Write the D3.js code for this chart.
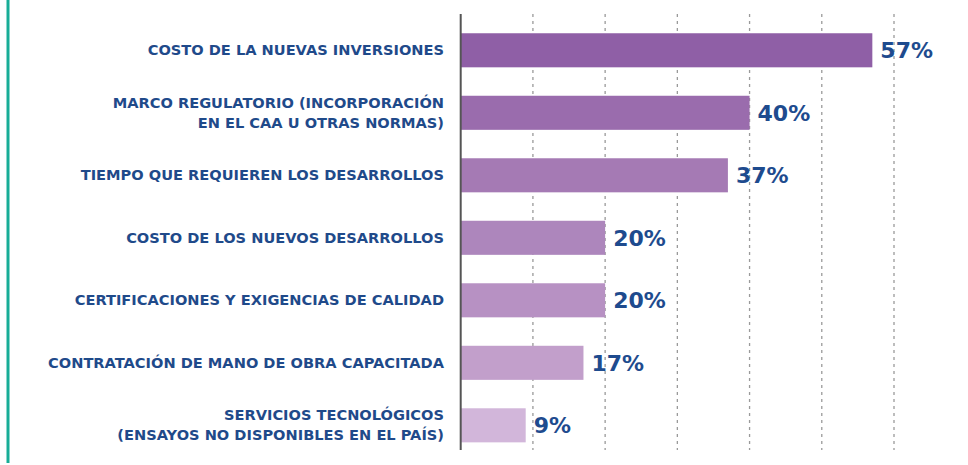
<!DOCTYPE html>
<html>
<head>
<meta charset="utf-8">
<script src="https://cdn.jsdelivr.net/npm/d3@7"></script>
<style>
  body { margin: 0; background: #fff; }
  .cat-label { font-family: "DejaVu Sans", sans-serif; font-weight: bold; font-size: 14.6px; fill: #1f4a8a; }
  .val-label { font-family: "DejaVu Sans", sans-serif; font-weight: bold; font-size: 22px; fill: #1e4b8e; }
</style>
</head>
<body>
<svg id="chart"></svg>
<script>
  const categories = [
    ["COSTO DE LA NUEVAS INVERSIONES"],
    ["MARCO REGULATORIO (INCORPORACIÓN", "EN EL CAA U OTRAS NORMAS)"],
    ["TIEMPO QUE REQUIEREN LOS DESARROLLOS"],
    ["COSTO DE LOS NUEVOS DESARROLLOS"],
    ["CERTIFICACIONES Y EXIGENCIAS DE CALIDAD"],
    ["CONTRATACIÓN DE MANO DE OBRA CAPACITADA"],
    ["SERVICIOS TECNOLÓGICOS", "(ENSAYOS NO DISPONIBLES EN EL PAÍS)"]
  ];
  const values = [57, 40, 37, 20, 20, 17, 9];
  const barColors = ["#8f5fa6", "#9a6cad", "#a57ab4", "#ad86bc", "#b791c3", "#c29fcb", "#d2b6da"];
  const gridTicks = [10, 20, 30, 40, 50, 60];

  const W = 968, H = 465;
  const svg = d3.select("#chart").attr("width", W).attr("height", H);

  // teal frame line on the left
  svg.append("line").attr("x1", 8).attr("x2", 8).attr("y1", 0).attr("y2", 463)
    .attr("stroke", "#17ad97").attr("stroke-width", 3);

  const x = d3.scaleLinear().domain([0, 60]).range([460.7, 894]);
  const y = d3.scaleBand().domain(d3.range(values.length)).range([2, 473.6]).paddingInner(0.455).paddingOuter(0.5);

  const axTop = 14, axBottom = 450;

  // dashed gridlines
  svg.selectAll("line.grid").data(gridTicks).join("line")
    .attr("class", "grid")
    .attr("x1", d => x(d)).attr("x2", d => x(d))
    .attr("y1", axTop).attr("y2", axBottom)
    .attr("stroke", "#9a9a9a").attr("stroke-width", 1.3)
    .attr("stroke-dasharray", "3,4");

  // bars
  svg.selectAll("rect.bar").data(values).join("rect")
    .attr("class", "bar")
    .attr("x", x(0)).attr("y", (d, i) => y(i))
    .attr("width", d => x(d) - x(0)).attr("height", y.bandwidth())
    .attr("fill", (d, i) => barColors[i]);

  // axis line
  svg.append("line").attr("x1", x(0)).attr("x2", x(0)).attr("y1", axTop).attr("y2", axBottom)
    .attr("stroke", "#555").attr("stroke-width", 2);

  // category labels
  categories.forEach((lines, i) => {
    const cy = y(i) + y.bandwidth() / 2;
    const t = svg.append("text").attr("class", "cat-label")
      .attr("text-anchor", "end")
      .attr("x", 444);
    const lh = 20;
    lines.forEach((ln, j) => {
      t.append("tspan").attr("x", 444)
        .attr("y", cy + (j - (lines.length - 1) / 2) * lh + 5)
        .text(ln);
    });
  });

  // value labels
  svg.selectAll("text.val-label").data(values).join("text")
    .attr("class", "val-label")
    .attr("x", d => x(d) + 8)
    .attr("y", (d, i) => y(i) + y.bandwidth() / 2 + 8)
    .text(d => d + "%");
</script>
</body>
</html>
